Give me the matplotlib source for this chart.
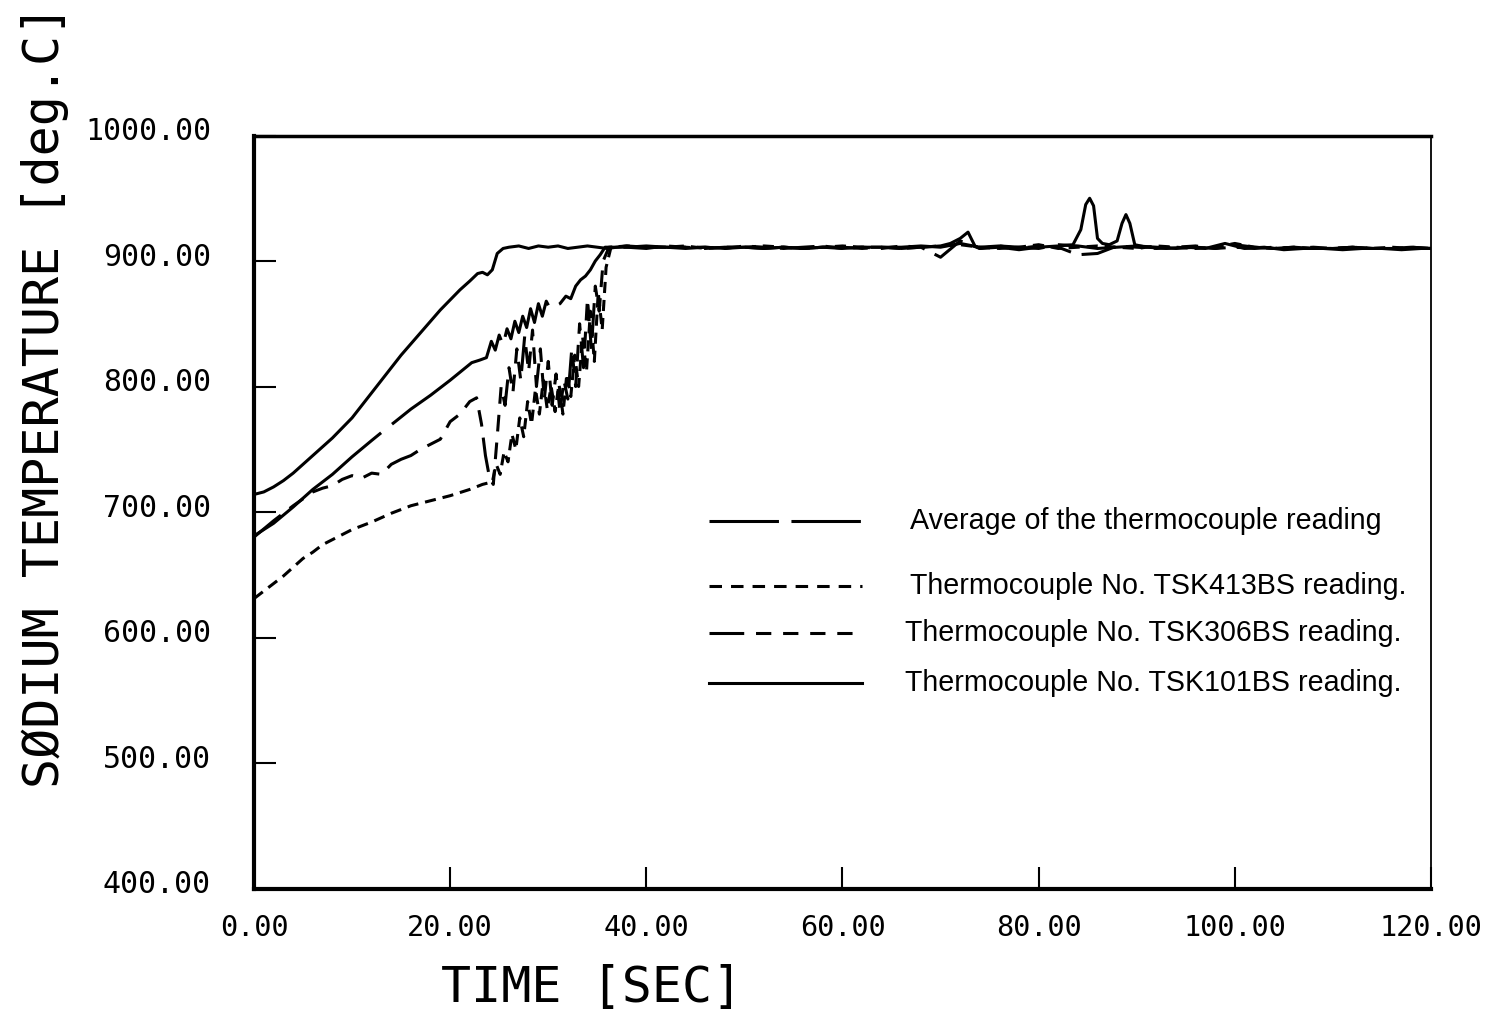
import matplotlib.pyplot as plt
import matplotlib.transforms as mtransforms

# sodium temperature transients, time in seconds, temperature in deg C
plateau_t = [38, 40, 42, 44, 46, 48, 50, 52, 54, 56, 58, 60, 62, 64, 66, 68,
             70, 72, 74, 76, 78, 80, 82, 84, 86, 88, 90, 92, 94, 96, 98, 100,
             102, 104, 106, 108, 110, 112, 114, 116, 118, 120]

# average of the thermocouples
avg_t = [0, 2, 4, 6, 8, 10, 12, 13.1, 14.4, 16, 18, 20, 22.2, 23.0, 23.7, 24.2,
         24.6, 25.0, 25.4, 25.8, 26.2, 26.6, 27.0, 27.4, 27.8, 28.2, 28.6, 29.0,
         29.4, 29.8, 30.2, 30.7, 31.2, 31.8, 32.3, 32.8, 33.3, 33.8, 34.3, 34.8,
         35.3, 35.8, 36.5] + plateau_t
avg_v = [681, 691, 704, 718, 730, 744, 757, 764, 772, 782, 793, 805, 819, 821,
         823, 836, 829, 841, 833, 846, 838, 852, 843, 856, 847, 862, 851, 866,
         856, 868, 862, 864, 866, 872, 870, 880, 885, 888, 893, 900, 905, 911,
         911] + \
        [911, 912, 911, 911, 910, 911, 911, 910, 911, 910, 911, 911, 910, 911,
         911, 912, 911, 914, 911, 912, 911, 910, 913, 912, 910, 911, 912, 911,
         910, 911, 910, 913, 911, 910, 911, 910, 910, 911, 910, 910, 911, 910]

# TSK306BS
t306 = [0, 2, 4, 6, 7, 8, 9, 10, 11, 12, 13, 14, 15, 16, 17, 18, 19, 20, 21, 22,
        22.7, 23.2, 23.6, 24.0, 24.4, 24.8, 25.2, 25.6, 26.0, 26.4, 26.8, 27.2,
        27.6, 28.0, 28.4, 28.8, 29.2, 29.6, 30.0, 30.4, 30.8, 31.2, 31.6, 32.0,
        32.4, 32.8, 33.2, 33.6, 34.0, 34.4, 34.8, 35.2, 35.6, 36.2] + plateau_t
v306 = [680, 693, 705, 716, 719, 721, 726, 729, 727, 731, 730, 738, 742, 745,
        750, 754, 758, 772, 778, 788, 791, 770, 745, 728, 722, 760, 800, 785,
        815, 795, 830, 805, 840, 812, 845, 800, 830, 790, 820, 785, 810, 780,
        805, 790, 830, 800, 850, 815, 870, 830, 880, 860, 900, 911] + \
       [911, 910, 912, 911, 911, 910, 912, 911, 910, 911, 912, 910, 911, 910,
        912, 911, 903, 916, 910, 912, 910, 912, 911, 905, 906, 912, 911, 910,
        911, 912, 910, 911, 910, 911, 910, 911, 910, 911, 910, 910, 911, 910]

# TSK413BS
t413 = [0, 1, 2, 3, 4, 5, 6, 7, 8, 9, 10, 12, 14, 16, 18, 20, 22, 23.3, 24.3,
        24.7, 25.1, 25.5, 25.9, 26.3, 26.7, 27.1, 27.5, 27.9, 28.3, 28.7, 29.1,
        29.5, 29.9, 30.3, 30.7, 31.1, 31.5, 31.9, 32.3, 32.7, 33.1, 33.5, 33.9,
        34.3, 34.7, 35.1, 35.5, 35.9, 36.4] + plateau_t
v413 = [631, 637, 643, 649, 656, 663, 668, 674, 678, 682, 686, 692, 699, 705,
        709, 713, 718, 722, 724, 738, 730, 748, 740, 762, 750, 775, 760, 788,
        770, 798, 778, 805, 782, 800, 780, 802, 778, 810, 792, 825, 800, 840,
        812, 860, 820, 875, 845, 895, 911] + \
       [912, 911, 911, 912, 910, 911, 911, 912, 911, 910, 911, 912, 911, 911,
        910, 911, 912, 913, 911, 910, 911, 913, 910, 911, 912, 911, 910, 912,
        911, 910, 911, 914, 911, 910, 911, 910, 910, 911, 910, 911, 910, 910]

# TSK101BS
t101 = [0, 1, 2, 3, 4, 5, 6, 7, 8, 9, 10, 11, 12, 13, 14, 15, 16, 17, 18, 19,
        20, 21, 22, 22.8, 23.3, 23.8, 24.3, 24.8, 25.4, 26, 27, 28, 29, 30, 31,
        32, 33, 34, 35, 36, 38, 40, 42, 44, 46, 48, 50, 52, 54, 56, 58, 60, 62,
        64, 66, 68, 70, 71, 72, 72.8, 73.5, 74, 76, 78, 80, 82, 83.5, 84.3,
        84.8, 85.2, 85.6, 86.0, 86.5, 87.2, 88.0, 88.5, 88.9, 89.3, 89.8, 91,
        93, 95, 97, 99, 101, 103, 105, 107, 109, 111, 113, 115, 117, 119, 120]
v101 = [714, 716, 720, 725, 731, 738, 745, 752, 759, 767, 775, 785, 795, 805,
        815, 825, 834, 843, 852, 861, 869, 877, 884, 890, 891, 889, 893, 906,
        910, 911, 912, 910, 912, 911, 912, 910, 911, 912, 911, 910, 912, 911,
        911, 910, 911, 910, 911, 910, 911, 910, 911, 910, 911, 911, 910, 911,
        912, 914, 918, 923, 912, 910, 911, 909, 911, 912, 913, 925, 945, 950,
        944, 918, 914, 913, 916, 930, 937, 930, 913, 911, 910, 911, 910, 914,
        910, 911, 909, 910, 910, 909, 910, 910, 909, 910, 910]

xticks = [0, 20, 40, 60, 80, 100, 120]
yticks = [400, 500, 600, 700, 800, 900, 1000]

plt.rcParams['lines.scale_dashes'] = False
mono = 'DejaVu Sans Mono'

fig = plt.figure(figsize=(15.09, 10.09), dpi=100)
ax = fig.add_axes([0.1683, 0.1194, 0.780, 0.7463])

lw = 2.2
dash_avg = (118, 10)
dash_306 = (25, 8, 12, 8, 12, 8, 12, 8, 12, 8)
dash_413 = (8, 5)

ax.plot(avg_t, avg_v, color='black', lw=lw, dashes=dash_avg)
ax.plot(t306, v306, color='black', lw=lw, dashes=dash_306)
ax.plot(t413, v413, color='black', lw=lw, dashes=dash_413)
ax.plot(t101, v101, color='black', lw=lw)

ax.set_xlim(0, 120)
ax.set_ylim(400, 1000)
ax.set_xticks(xticks)
ax.set_xticklabels(['%.2f' % v for v in xticks], family=mono, fontsize=20.5)
ax.set_yticks(yticks)
ax.set_yticklabels(['%.2f' % v for v in yticks], family=mono, fontsize=21.5)
ax.tick_params(axis='both', direction='in', length=16, width=1.5)
ax.tick_params(axis='x', pad=18)
ax.tick_params(axis='y', pad=31)

# y labels sit a little above their ticks
shift = mtransforms.ScaledTranslation(0, 5 / 72, fig.dpi_scale_trans)
for lab in ax.get_yticklabels():
    lab.set_transform(lab.get_transform() + shift)

ax.spines['left'].set_linewidth(3)
ax.spines['bottom'].set_linewidth(3)
ax.spines['top'].set_linewidth(2.5)
ax.spines['right'].set_linewidth(1.3)

# legend drawn by hand, rows are unevenly spaced
legend_rows = [
    (0.488, 0.557, 'Average of the thermocouple reading', (50, 9)),
    (0.402, 0.557, 'Thermocouple No. TSK413BS reading.', (9, 6.5)),
    (0.339, 0.553, 'Thermocouple No. TSK306BS reading.', (25, 8.5, 11, 8.5, 11, 8.5, 11, 8.5, 11, 8.5)),
    (0.273, 0.553, 'Thermocouple No. TSK101BS reading.', None),
]
for y, xt, text, d in legend_rows:
    if d is None:
        ax.plot([0.387, 0.517], [y, y], transform=ax.transAxes, color='black', lw=lw)
    else:
        ax.plot([0.387, 0.517], [y, y], transform=ax.transAxes, color='black', lw=lw, dashes=d)
    ax.text(xt, y, text, transform=ax.transAxes, ha='left', va='center',
            family='Liberation Sans', fontsize=20.6)

fig.text(0.392, 0.021, 'TIME [SEC]', ha='center', va='center', family=mono, fontsize=36)
fig.text(0.030, 0.607, 'SØDIUM TEMPERATURE [deg.C]', rotation=90, ha='center',
         va='center', family=mono, fontsize=36)

fig.savefig('out.png', dpi=100)
